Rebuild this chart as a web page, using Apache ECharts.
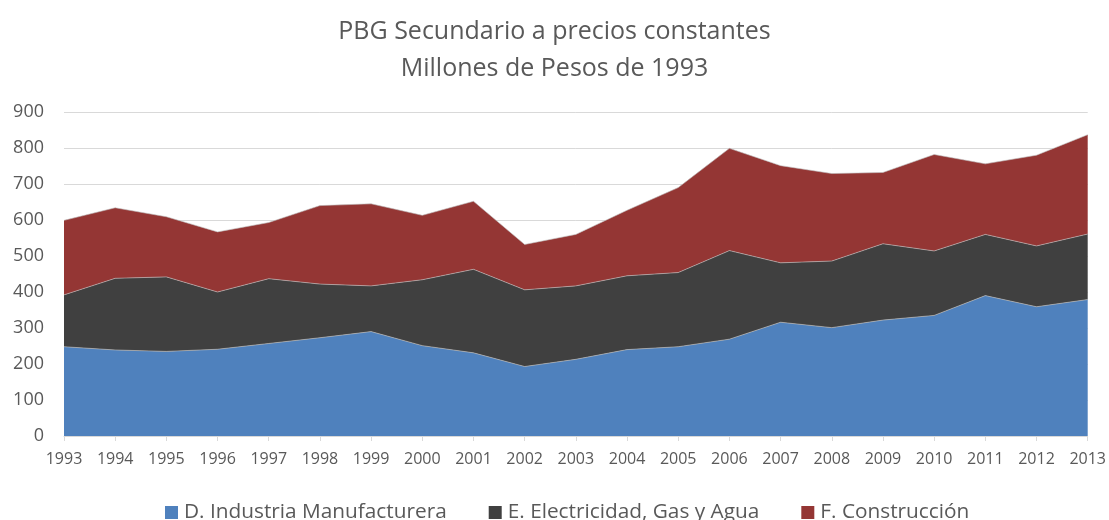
<!DOCTYPE html>
<html><head><meta charset="utf-8">
<script src="https://cdn.jsdelivr.net/npm/echarts@6/dist/echarts.min.js"></script>
<style>html,body{margin:0;padding:0;background:#fff}#c{width:1109px;height:520px}</style>
</head><body><div id="c"></div>
<script>
const years = ['1993','1994','1995','1996','1997','1998','1999','2000','2001','2002','2003','2004','2005','2006','2007','2008','2009','2010','2011','2012','2013'];
const manufactura = [248,239,235,241,257,273,290,251,231,193,213,240,248,269,316,301,322,335,390,359,379];
const electricidad = [144,199,207,159,180,149,127,183,232,213,204,205,206,246,165,185,212,179,170,169,182];
const construccion = [207,196,167,167,156,218,228,179,189,126,143,182,236,284,270,243,198,268,196,252,276];
const yTicks = [0,100,200,300,400,500,600,700,800,900];

const font = 'Open Sans';
const chart = echarts.init(document.getElementById('c'));
function s(name, data, color){
  return {name, type:'line', stack:'total', data, symbol:'none', showSymbol:false,
    lineStyle:{width:0.6,color:'#bfbfbf'}, areaStyle:{color, opacity:1}, itemStyle:{color}};
}
chart.setOption({
  animation:false,
  title:{text:'PBG Secundario a precios constantes\nMillones de Pesos de 1993', left:'center', top:8,
    textStyle:{fontFamily:font, fontSize:25, fontWeight:'normal', color:'#595959', lineHeight:37}},
  legend:{bottom:-8, left:160, itemWidth:13, itemHeight:13, itemGap:42, icon:'rect',
    textStyle:{fontFamily:font, fontSize:20.8, color:'#595959', padding:[0,0,0,1]}},
  grid:{left:64, right:20, top:112, bottom:84},
  xAxis:{type:'category', data:years, boundaryGap:false,
    axisLine:{lineStyle:{color:'#d9d9d9', width:1}},
    axisTick:{show:true, alignWithLabel:true, length:5, lineStyle:{color:'#d9d9d9'}},
    axisLabel:{fontFamily:font, fontSize:16, color:'#595959', margin:15, interval:0}},
  yAxis:{type:'value', min:yTicks[0], max:yTicks[yTicks.length-1], interval:100,
    axisLine:{show:false}, axisTick:{show:false},
    splitLine:{lineStyle:{color:'#d9d9d9', width:1}},
    axisLabel:{fontFamily:font, fontSize:18, color:'#595959', margin:20}},
  series:[
    s('D. Industria Manufacturera', manufactura, '#4f81bd'),
    s('E. Electricidad, Gas y Agua', electricidad, '#404040'),
    s('F. Construcción', construccion, '#943634')
  ]
});
</script></body></html>
